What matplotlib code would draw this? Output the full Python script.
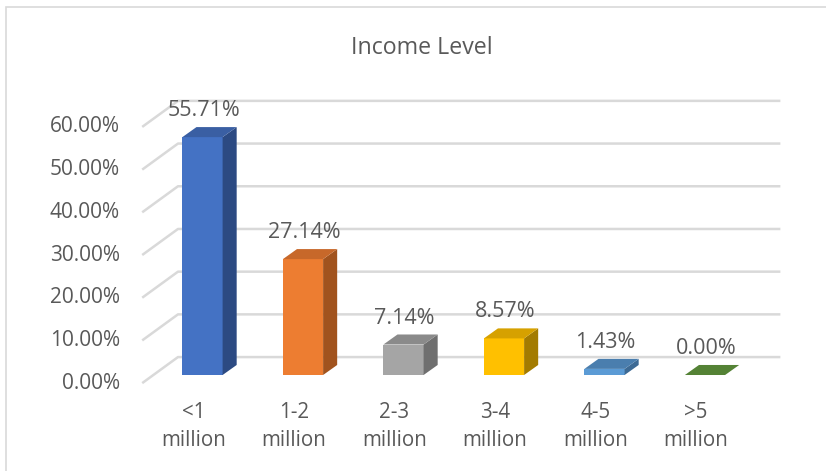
import matplotlib.pyplot as plt
from matplotlib.patches import Polygon, Rectangle

plt.rcParams['font.family'] = ['Open Sans', 'DejaVu Sans']

categories = ['<1\nmillion', '1-2\nmillion', '2-3\nmillion', '3-4\nmillion', '4-5\nmillion', '>5\nmillion']
shares = [55.71, 27.14, 7.14, 8.57, 1.43, 0.00]
ticks = [0, 10, 20, 30, 40, 50, 60]

front_colors = ['#4472C4', '#ED7D31', '#A5A5A5', '#FFC000', '#5B9BD5', '#70AD47']
top_colors = ['#3A5FA3', '#C7682A', '#8A8A8A', '#D6A100', '#4A7EAE', '#548235']
side_colors = ['#2C4A82', '#A1531E', '#6F6F6F', '#A37B00', '#3D6A94', '#466F2D']

TEXT = '#595959'
GRID = '#D9D9D9'

# fake 3d: depth offsets in (category, percent) units
HALF_W = 0.2
DX, DY = 0.14, 2.35          # bar depth
FLOOR_DX, FLOOR_DY = -0.6, -1.9   # front edge of floor
WALL_DX, WALL_DY = -0.244, 4.2    # back wall
WALL_END = 5.75

fig = plt.figure(figsize=(8.26, 4.71), dpi=100)
ax = fig.add_axes([0, 0, 1, 1])
ax.axis('off')
ax.set_xlim(-2.015, 6.204)
ax.set_ylim(-22.48, 87.82)

# chart frame
fig.add_artist(Rectangle((6 / 826, -0.1), 1.2, 1.1 - 7 / 471, transform=fig.transFigure,
                         fill=False, edgecolor=GRID, lw=1.2))

# back wall gridlines with the diagonal floor/side wall bits
for v in ticks:
    ax.plot([FLOOR_DX, WALL_DX, WALL_END], [v + FLOOR_DY, v + WALL_DY, v + WALL_DY],
            color=GRID, lw=1.8, zorder=1, solid_capstyle='butt')
    ax.text(-0.821, v + FLOOR_DY, f'{v:.2f}%', ha='right', va='center',
            fontsize=15, color=TEXT)

for i, (cat, val) in enumerate(zip(categories, shares)):
    x0, x1 = i - HALF_W, i + HALF_W
    if val > 0:
        ax.add_patch(Polygon([(x0, 0), (x1, 0), (x1, val), (x0, val)],
                             facecolor=front_colors[i], edgecolor='none', zorder=3))
        ax.add_patch(Polygon([(x1, 0), (x1 + DX, DY), (x1 + DX, val + DY), (x1, val)],
                             facecolor=side_colors[i], edgecolor='none', zorder=3))
    ax.add_patch(Polygon([(x0, val), (x1, val), (x1 + DX, val + DY), (x0 + DX, val + DY)],
                         facecolor=top_colors[i], edgecolor='none', zorder=3))
    ax.text(i + 0.01, val + DY + 1.4, f'{val:.2f}%', ha='center', va='bottom',
            fontsize=15.5, color=TEXT, zorder=4)
    ax.text(i - 0.09, -12.1, cat, ha='center', va='center', fontsize=14.8,
            color=TEXT, linespacing=1.42)

ax.text(2.18, 76.6, 'Income Level', ha='center', va='center', fontsize=16.7, color=TEXT)

fig.savefig('out.png', dpi=100)
